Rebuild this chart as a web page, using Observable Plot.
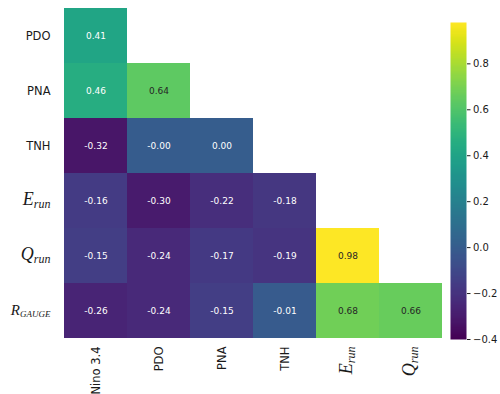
<!DOCTYPE html>
<html>
<head>
<meta charset="utf-8">
<script src="https://cdn.jsdelivr.net/npm/d3@7"></script>
<script src="https://cdn.jsdelivr.net/npm/@observablehq/plot@0.6"></script>
<style>
  body { margin: 0; background: white; }
  #wrap { position: relative; width: 500px; height: 394px; }
  #wrap svg { position: absolute; left: 0; top: 0; }
</style>
</head>
<body>
<div id="wrap"></div>
<script>
const rows = ["PDO", "PNA", "TNH", "E_run", "Q_run", "R_GAUGE"];
const cols = ["Nino 3.4", "PDO", "PNA", "TNH", "E_run", "Q_run"];
const rowPDO = [0.41];
const rowPNA = [0.46, 0.64];
const rowTNH = [-0.32, -0.004, 0.004];
const rowErun = [-0.16, -0.30, -0.22, -0.18];
const rowQrun = [-0.15, -0.24, -0.17, -0.19, 0.98];
const rowRgauge = [-0.26, -0.24, -0.15, -0.01, 0.68, 0.66];
const rowValues = [rowPDO, rowPNA, rowTNH, rowErun, rowQrun, rowRgauge];
const colorDomain = [-0.4, 0.98];

const data = [];
rows.forEach((r, i) => rowValues[i].forEach((v, j) => data.push({row: r, col: cols[j], v})));

const colorOpts = {type: "linear", scheme: "viridis", domain: colorDomain};
const light = d => d.v > 0.55;

const main = Plot.plot({
  width: 500, height: 394,
  marginLeft: 63, marginRight: 57, marginTop: 8, marginBottom: 56,
  x: {domain: cols, padding: 0, label: null, tickRotate: -90, tickSize: 0, tickPadding: 8},
  y: {domain: rows, padding: 0, label: null, tickSize: 0, tickPadding: 13},
  color: colorOpts,
  style: {fontFamily: "DejaVu Sans", fontSize: "11.5px", background: "white", color: "#1a1a1a"},
  marks: [
    Plot.cell(data, {x: "col", y: "row", fill: "v", inset: 0}),
    Plot.text(data.filter(d => !light(d)), {x: "col", y: "row", text: d => d.v.toFixed(2), fill: "white", fontSize: 9}),
    Plot.text(data.filter(light), {x: "col", y: "row", text: d => d.v.toFixed(2), fill: "#262626", fontSize: 9})
  ]
});

const math = {
  "E_run": ["E", "run", 18, 12],
  "Q_run": ["Q", "run", 18, 12],
  "R_GAUGE": ["R", "GAUGE", 15, 9]
};
main.querySelectorAll('g[aria-label$="tick label"] text').forEach(t => {
  const m = math[t.textContent];
  if (!m) return;
  t.textContent = "";
  const ns = "http://www.w3.org/2000/svg";
  const b = document.createElementNS(ns, "tspan");
  b.textContent = m[0];
  b.setAttribute("font-family", "Liberation Serif");
  b.setAttribute("font-style", "italic");
  b.setAttribute("font-size", m[2]);
  const s = document.createElementNS(ns, "tspan");
  s.textContent = m[1];
  s.setAttribute("font-family", "Liberation Serif");
  s.setAttribute("font-style", "italic");
  s.setAttribute("font-size", m[3]);
  s.setAttribute("dy", "0.3em");
  t.appendChild(b);
  t.appendChild(s);
});

const bar = Plot.plot({
  width: 500, height: 394,
  marginLeft: 450, marginRight: 34, marginTop: 22, marginBottom: 55,
  x: {domain: [0, 1], axis: null},
  y: {domain: colorDomain, axis: "right", ticks: 7, tickFormat: d3.format(".1f"), tickSize: 3.5, tickPadding: 3, label: null},
  color: colorOpts,
  style: {fontFamily: "DejaVu Sans", fontSize: "10px", background: "transparent", color: "#1a1a1a"},
  marks: [
    Plot.raster({fill: (x, y) => y, x1: 0, x2: 1, y1: colorDomain[0], y2: colorDomain[1], width: 1, height: 300})
  ]
});

const wrap = document.getElementById("wrap");
wrap.appendChild(main);
wrap.appendChild(bar);
</script>
</body>
</html>
